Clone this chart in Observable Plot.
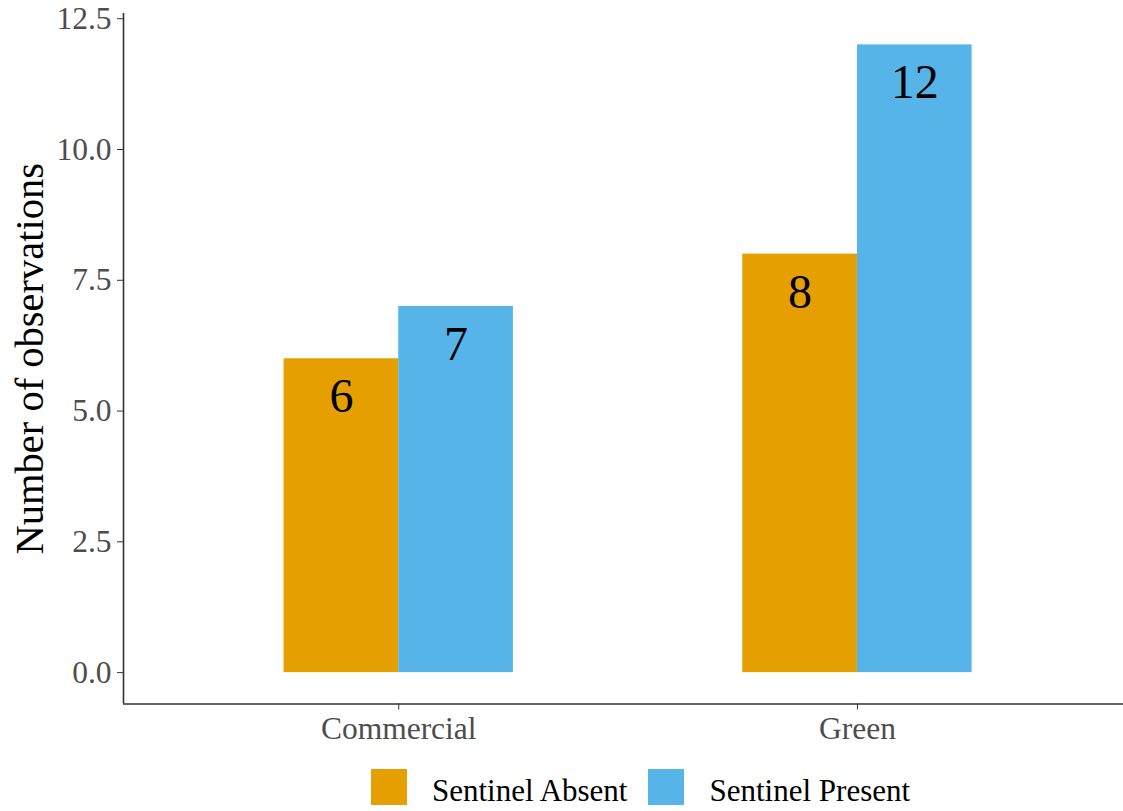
<!DOCTYPE html>
<html><head><meta charset="utf-8">
<script src="https://cdn.jsdelivr.net/npm/d3@7"></script>
<script src="https://cdn.jsdelivr.net/npm/@observablehq/plot@0.6"></script>
<style>
body{margin:0;background:#fff;font-family:"Liberation Serif","Times New Roman",serif;}
#chart svg{display:block}
#chart g[aria-label="y-axis label"] text{font-size:40.5px;fill:#000}
#chart g[aria-label="y-axis tick label"], #chart g[aria-label="x-axis tick label"]{fill:#4d4d4d}
#legend{margin-top:14px;margin-left:371px}
.lg-swatch{margin-right:21px !important}
.lg-swatch > svg{margin-right:25px !important;margin-bottom:8px !important}
</style></head><body><div id="chart"></div><div id="legend"></div><script>
const sites = ["Commercial", "Green"];
const sentinel = ["Sentinel Absent", "Sentinel Present"];
const absentCounts = [6, 8];
const presentCounts = [7, 12];
const yTicks = [0, 2.5, 5, 7.5, 10, 12.5];
const colors = ["#E69F00", "#56B4E9"];

// ggplot-style discrete positions (1, 2) with position_dodge(width = 0.5)
const dodgeWidth = 0.5;
const rows = [];
sites.forEach((s, i) => {
  [absentCounts[i], presentCounts[i]].forEach((c, j) => {
    const x1 = (i + 1) - dodgeWidth / 2 + j * dodgeWidth / 2;
    rows.push({site: s, pos: i + 1, sentinel: sentinel[j], count: c, x1, x2: x1 + dodgeWidth / 2});
  });
});

const plot = Plot.plot({
  width: 1123, height: 755,
  marginLeft: 123, marginRight: 0, marginTop: 13, marginBottom: 51.5,
  style: {fontFamily: "Liberation Serif, Times New Roman, serif", background: "#fff", color: "#333"},
  x: {domain: [0.4, 2.58]},
  y: {domain: [-0.6, 12.6], grid: false},
  color: {domain: sentinel, range: colors},
  marks: [
    Plot.rectY(rows, {x1: "x1", x2: "x2", y: "count", fill: "sentinel"}),
    Plot.text(rows, {x: d => (d.x1 + d.x2) / 2, y: "count", text: d => String(d.count), dy: 38, fontSize: 48, fill: "#000", fontFamily: "Liberation Serif"}),
    Plot.ruleX([0.4], {stroke: "#333", strokeWidth: 1.6}),
    Plot.ruleY([-0.6], {stroke: "#333", strokeWidth: 1.6}),
    Plot.axisY({ticks: yTicks, tickFormat: d3.format(".1f"), tickSize: 6, tickPadding: 6, fontSize: 31.5,
      label: "Number of observations", labelArrow: "none", labelAnchor: "center", labelOffset: 109}),
    Plot.axisX({ticks: [1, 2], tickFormat: d => sites[d - 1], tickSize: 6, tickPadding: 7, fontSize: 31.5, label: null})
  ]
});
d3.select(plot).selectAll('g[aria-label="y-axis label"] text').each(function() {
  this.textContent = this.textContent.replace(/[↑↓]/g, "").trim();
});
document.getElementById("chart").append(plot);

const leg = Plot.legend({
  color: {domain: sentinel, range: colors},
  swatchSize: 36, className: "lg",
  style: {fontSize: "31px", fontFamily: "Liberation Serif, Times New Roman, serif", color: "#000"}
});
document.getElementById("legend").append(leg);
</script></body></html>
